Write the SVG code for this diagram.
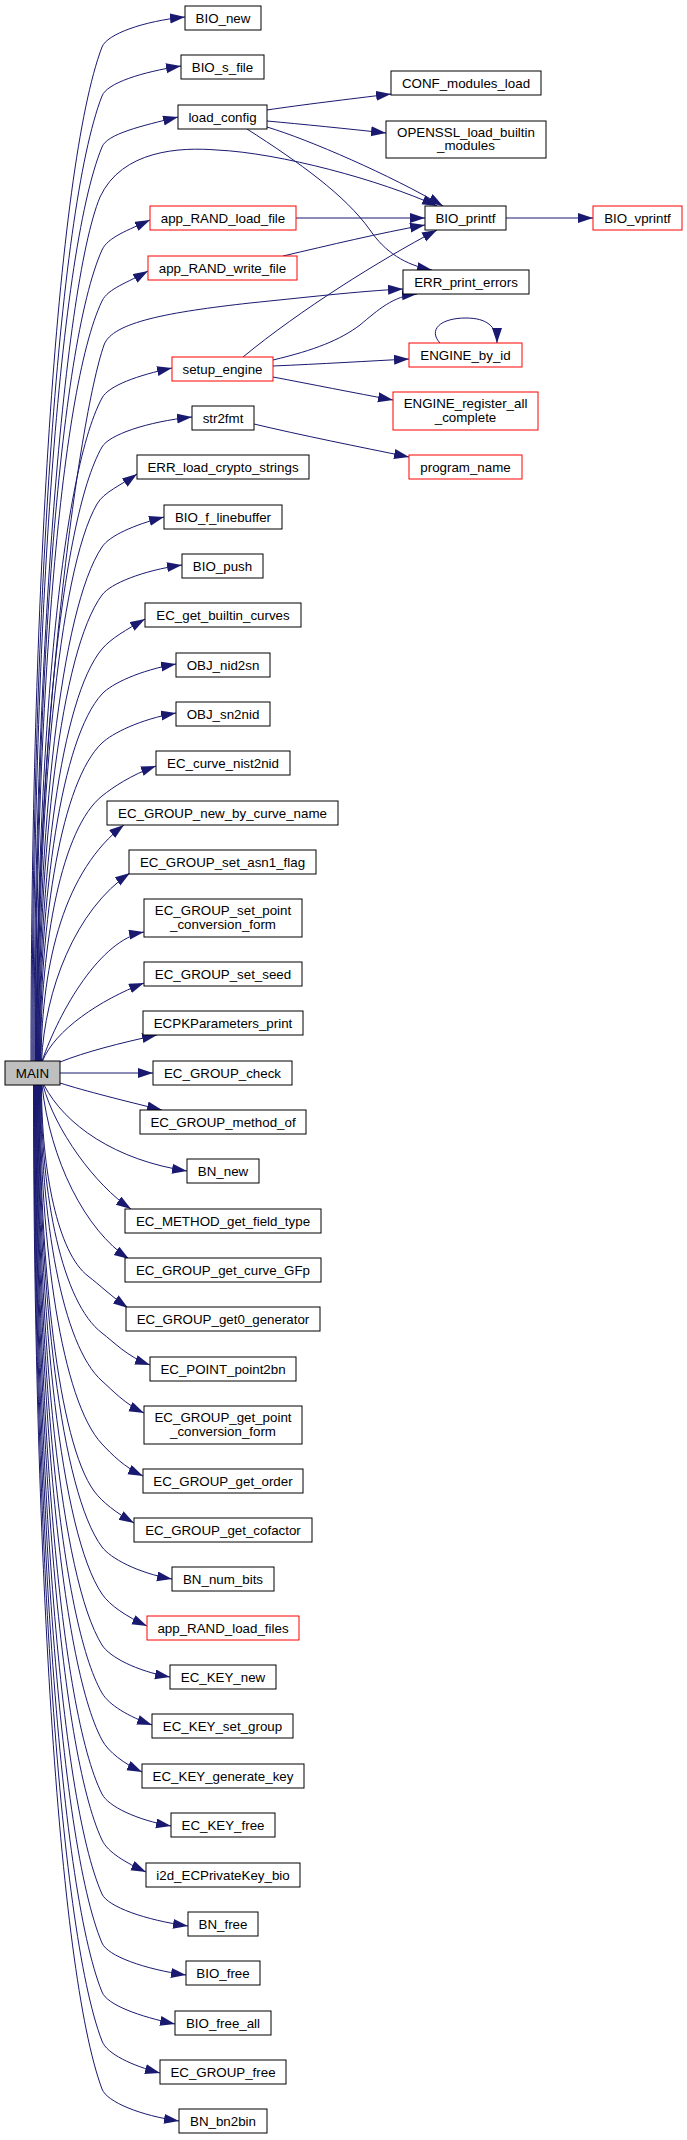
<svg xmlns="http://www.w3.org/2000/svg" width="687" height="2140" viewBox="0 0 687 2140">
<style>
.n rect{fill:#fff;stroke:#000;stroke-width:1}
.n.r rect{stroke:#ff0000}
.n.m rect{fill:#bfbfbf}
.n text{font-family:"Liberation Sans",Arial,Helvetica,sans-serif;font-size:13.33px;text-anchor:middle;fill:#000}
.e path{fill:none;stroke:#191970;stroke-width:1;marker-end:url(#a)}
</style>
<defs>
<marker id="a" markerUnits="userSpaceOnUse" markerWidth="16" markerHeight="11" refX="15" refY="5" orient="auto">
<path d="M0,0 L15,5 L0,10 z" fill="#191970"/>
</marker>
</defs>
<rect width="687" height="2140" fill="#fff"/>
<g id="edges" class="e">
<path d="M31,1061 C31,605 56,169 102,47 C107,34 144,21 185,17"/>
<path d="M32,1061 C32,627 57,212 102,96 C107,83 142,72 181,66"/>
<path d="M33,1061 C33,650 57,257 102,147 C107,134 141,126 178,117"/>
<path d="M34,1061 C34,680 62,290 100,197 C122,150 180,147 217,150 C280,153 380,180 437,206"/>
<path d="M35,1061 C35,696 58.5,347 102,250 C107.7,237.2 128.3,230.1 150,220"/>
<path d="M35.5,1061 C35.5,719 58.8,392 102,301 C108,288.4 128.1,282.5 148,271"/>
<path d="M36,1061 C36,740 78,420 104,345 C112,322 170,312 250,303 C300,298 360,291 403,289"/>
<path d="M36.5,1061 C36.5,763 59.4,478 102,398 C108.6,385.6 137.8,375.3 172,368"/>
<path d="M37,1061 C37,785 59.8,521 102,447 C108.9,434.8 147.2,421.7 192,417"/>
<path d="M37.5,1061 C37.5,810 58.3,571 97,504 C104,491.9 120.6,485.5 137,474"/>
<path d="M38,1061 C38,830 60.4,609 102,547 C109.8,535.4 134.1,525 164,517"/>
<path d="M38.5,1061 C38.5,851 60.7,651 102,595 C110.3,583.7 142.4,570.6 182,565"/>
<path d="M39,1061 C39,876 61,698 102,649 C111,638.3 126.4,629.8 145,619"/>
<path d="M39.5,1061 C39.5,896 61.4,738 102,694 C111.5,683.7 139.6,670.4 176,664"/>
<path d="M40,1061 C40,918 61.7,781 102,743 C112.2,733.4 139.6,719.4 176,713"/>
<path d="M40.5,1061 C40.5,942 62,828 102,796 C112.9,787.3 130.6,775.2 156,766"/>
<path d="M41,1061 C42,960 65,870 124,825"/>
<path d="M41.5,1061 C45,990 75,910 130,873"/>
<path d="M42,1061 C60,1010 100,940 144,932"/>
<path d="M42.5,1061 C55,1030 100,1000 144,983"/>
<path d="M60,1062 C85,1052 120,1043 157,1035"/>
<path d="M60,1073 L153,1073"/>
<path d="M60,1083 C85,1091 125,1101 162,1110"/>
<path d="M44,1085 C65,1125 115,1160 187,1171"/>
<path d="M43,1085 C55,1130 95,1185 131,1209"/>
<path d="M42,1085 C50,1160 85,1230 129,1259"/>
<path d="M41.5,1085 C41.5,1171 57.8,1253 88,1276 C99.1,1284.5 111.6,1296.5 128,1308"/>
<path d="M41,1085 C41,1197 62.4,1303 102,1333 C113.2,1341.5 127.4,1356.8 150,1365"/>
<path d="M40.5,1085 C40.5,1218 62,1345.5 102,1381 C112.5,1390.3 125,1404.1 144,1413"/>
<path d="M40,1085 C40,1247 61.7,1401 102,1444 C111.6,1454.2 124.4,1467.3 143,1476"/>
<path d="M39.5,1085 C39.5,1268 58.5,1442 94,1491 C102.2,1502.3 116.7,1513 134,1523"/>
<path d="M39,1085 C39,1293 61,1492 102,1547 C110.4,1558.2 137.5,1572.9 172,1579"/>
<path d="M38.5,1085 C38.5,1314 60.7,1533 102,1594 C109.8,1605.6 126.6,1616.5 147,1626"/>
<path d="M38,1085 C38,1337 60.4,1578 102,1645 C109.4,1656.9 136.5,1671.1 170,1677"/>
<path d="M37.5,1085 C37.5,1359 60.1,1620 102,1693 C109,1705.1 128.5,1716.4 152,1725"/>
<path d="M37,1085 C37,1380 59.8,1661 102,1740 C108.6,1752.3 123.9,1763.5 142,1772"/>
<path d="M36.5,1085 C36.5,1404 59.4,1709 102,1794 C108.3,1806.5 137,1820 171,1826"/>
<path d="M36,1085 C36,1425 59.1,1749 102,1840 C108,1852.7 126.1,1862.7 146,1872"/>
<path d="M35.5,1085 C35.5,1449 58.8,1797 102,1894 C107.7,1906.8 145.4,1920 188,1926"/>
<path d="M35,1085 C35,1471 58.5,1840 102,1943 C107.4,1955.9 144.4,1969.2 186,1975"/>
<path d="M34.5,1085 C34.5,1493 58.1,1883 102,1992 C107.2,2005 139.3,2016.4 175,2024"/>
<path d="M34,1085 C34,1515 57.8,1926 102,2041 C107,2054.1 132,2065.5 160,2073"/>
<path d="M33.5,1085 C33.5,1537 57.5,1969 102,2089 C106.9,2102.1 140.9,2115.6 179,2121"/>
<path d="M267,110 C300,105 350,99 391,94"/>
<path d="M267,121 C300,124 350,129 386,133"/>
<path d="M267,127 C310,140 390,175 443,206"/>
<path d="M247,129 C300,163 345,195 370,230 C385,252 405,265 432,270"/>
<path d="M296,218 L425,218"/>
<path d="M283,256 C330,245 380,233 425,225"/>
<path d="M243,357 C300,310 380,260 437,230"/>
<path d="M273,360 C315,350 340,340 360,325 C378,310 393,296 417,294"/>
<path d="M273,366 C320,364 370,361 409,359"/>
<path d="M273,377 C310,384 355,393 393,400"/>
<path d="M440,343 C428,330 440,318 466,318 C486,318 497,326 497,343"/>
<path d="M506,218 L593,218"/>
<path d="M254,424 C300,435 360,447 409,457"/>
</g>
<g id="n_BIO_new" class="n"><rect x="185" y="6" width="76" height="24"/><text x="223" y="22.5">BIO_new</text></g>
<g id="n_BIO_s_file" class="n"><rect x="181" y="55" width="83" height="24"/><text x="222.5" y="71.5">BIO_s_file</text></g>
<g id="n_load_config" class="n"><rect x="178" y="105" width="89" height="24"/><text x="222.5" y="121.5">load_config</text></g>
<g id="n_app_RAND_load_file" class="n r"><rect x="150" y="206" width="146" height="24"/><text x="223" y="222.5">app_RAND_load_file</text></g>
<g id="n_app_RAND_write_file" class="n r"><rect x="148" y="256" width="149" height="24"/><text x="222.5" y="272.5">app_RAND_write_file</text></g>
<g id="n_setup_engine" class="n r"><rect x="172" y="357" width="101" height="24"/><text x="222.5" y="373.5">setup_engine</text></g>
<g id="n_str2fmt" class="n"><rect x="192" y="406" width="62" height="24"/><text x="223" y="422.5">str2fmt</text></g>
<g id="n_ERR_load_crypto_strings" class="n"><rect x="137" y="455" width="172" height="24"/><text x="223" y="471.5">ERR_load_crypto_strings</text></g>
<g id="n_BIO_f_linebuffer" class="n"><rect x="164" y="505" width="118" height="24"/><text x="223" y="521.5">BIO_f_linebuffer</text></g>
<g id="n_BIO_push" class="n"><rect x="182" y="554" width="81" height="24"/><text x="222.5" y="570.5">BIO_push</text></g>
<g id="n_EC_get_builtin_curves" class="n"><rect x="145" y="603" width="156" height="24"/><text x="223" y="619.5">EC_get_builtin_curves</text></g>
<g id="n_OBJ_nid2sn" class="n"><rect x="176" y="653" width="94" height="24"/><text x="223" y="669.5">OBJ_nid2sn</text></g>
<g id="n_OBJ_sn2nid" class="n"><rect x="176" y="702" width="94" height="24"/><text x="223" y="718.5">OBJ_sn2nid</text></g>
<g id="n_EC_curve_nist2nid" class="n"><rect x="156" y="751" width="134" height="24"/><text x="223" y="767.5">EC_curve_nist2nid</text></g>
<g id="n_EC_GROUP_new_by_curve_name" class="n"><rect x="107" y="801" width="231" height="24"/><text x="222.5" y="817.5">EC_GROUP_new_by_curve_name</text></g>
<g id="n_EC_GROUP_set_asn1_flag" class="n"><rect x="129" y="850" width="187" height="24"/><text x="222.5" y="866.5">EC_GROUP_set_asn1_flag</text></g>
<g id="n_EC_GROUP_set_point_conversion_form" class="n"><rect x="144" y="899" width="158" height="38"/><text x="223" y="915">EC_GROUP_set_point</text><text x="223" y="929">_conversion_form</text></g>
<g id="n_EC_GROUP_set_seed" class="n"><rect x="144" y="962" width="158" height="24"/><text x="223" y="978.5">EC_GROUP_set_seed</text></g>
<g id="n_ECPKParameters_print" class="n"><rect x="143" y="1011" width="160" height="24"/><text x="223" y="1027.5">ECPKParameters_print</text></g>
<g id="n_MAIN" class="n m"><rect x="5" y="1061" width="55" height="24"/><text x="32.5" y="1077.5">MAIN</text></g>
<g id="n_EC_GROUP_check" class="n"><rect x="153" y="1061" width="139" height="24"/><text x="222.5" y="1077.5">EC_GROUP_check</text></g>
<g id="n_EC_GROUP_method_of" class="n"><rect x="140" y="1110" width="166" height="24"/><text x="223" y="1126.5">EC_GROUP_method_of</text></g>
<g id="n_BN_new" class="n"><rect x="187" y="1159" width="72" height="24"/><text x="223" y="1175.5">BN_new</text></g>
<g id="n_EC_METHOD_get_field_type" class="n"><rect x="125" y="1209" width="196" height="24"/><text x="223" y="1225.5">EC_METHOD_get_field_type</text></g>
<g id="n_EC_GROUP_get_curve_GFp" class="n"><rect x="125" y="1258" width="196" height="24"/><text x="223" y="1274.5">EC_GROUP_get_curve_GFp</text></g>
<g id="n_EC_GROUP_get0_generator" class="n"><rect x="126" y="1307" width="194" height="24"/><text x="223" y="1323.5">EC_GROUP_get0_generator</text></g>
<g id="n_EC_POINT_point2bn" class="n"><rect x="150" y="1357" width="146" height="24"/><text x="223" y="1373.5">EC_POINT_point2bn</text></g>
<g id="n_EC_GROUP_get_point_conversion_form" class="n"><rect x="144" y="1406" width="158" height="38"/><text x="223" y="1422">EC_GROUP_get_point</text><text x="223" y="1436">_conversion_form</text></g>
<g id="n_EC_GROUP_get_order" class="n"><rect x="143" y="1469" width="160" height="24"/><text x="223" y="1485.5">EC_GROUP_get_order</text></g>
<g id="n_EC_GROUP_get_cofactor" class="n"><rect x="134" y="1518" width="178" height="24"/><text x="223" y="1534.5">EC_GROUP_get_cofactor</text></g>
<g id="n_BN_num_bits" class="n"><rect x="172" y="1567" width="102" height="24"/><text x="223" y="1583.5">BN_num_bits</text></g>
<g id="n_app_RAND_load_files" class="n r"><rect x="147" y="1616" width="152" height="24"/><text x="223" y="1632.5">app_RAND_load_files</text></g>
<g id="n_EC_KEY_new" class="n"><rect x="170" y="1665" width="106" height="24"/><text x="223" y="1681.5">EC_KEY_new</text></g>
<g id="n_EC_KEY_set_group" class="n"><rect x="152" y="1714" width="141" height="24"/><text x="222.5" y="1730.5">EC_KEY_set_group</text></g>
<g id="n_EC_KEY_generate_key" class="n"><rect x="142" y="1764" width="162" height="24"/><text x="223" y="1780.5">EC_KEY_generate_key</text></g>
<g id="n_EC_KEY_free" class="n"><rect x="171" y="1813" width="104" height="24"/><text x="223" y="1829.5">EC_KEY_free</text></g>
<g id="n_i2d_ECPrivateKey_bio" class="n"><rect x="146" y="1863" width="154" height="24"/><text x="223" y="1879.5">i2d_ECPrivateKey_bio</text></g>
<g id="n_BN_free" class="n"><rect x="188" y="1912" width="70" height="24"/><text x="223" y="1928.5">BN_free</text></g>
<g id="n_BIO_free" class="n"><rect x="186" y="1961" width="74" height="24"/><text x="223" y="1977.5">BIO_free</text></g>
<g id="n_BIO_free_all" class="n"><rect x="175" y="2011" width="96" height="24"/><text x="223" y="2027.5">BIO_free_all</text></g>
<g id="n_EC_GROUP_free" class="n"><rect x="160" y="2060" width="126" height="24"/><text x="223" y="2076.5">EC_GROUP_free</text></g>
<g id="n_BN_bn2bin" class="n"><rect x="179" y="2109" width="88" height="24"/><text x="223" y="2125.5">BN_bn2bin</text></g>
<g id="n_CONF_modules_load" class="n"><rect x="391" y="71" width="150" height="24"/><text x="466" y="87.5">CONF_modules_load</text></g>
<g id="n_OPENSSL_load_builtin_modules" class="n"><rect x="386" y="121" width="160" height="37"/><text x="466" y="137">OPENSSL_load_builtin</text><text x="466" y="150">_modules</text></g>
<g id="n_BIO_printf" class="n"><rect x="425" y="206" width="81" height="24"/><text x="465.5" y="222.5">BIO_printf</text></g>
<g id="n_BIO_vprintf" class="n r"><rect x="593" y="206" width="89" height="24"/><text x="637.5" y="222.5">BIO_vprintf</text></g>
<g id="n_ERR_print_errors" class="n"><rect x="403" y="270" width="126" height="24"/><text x="466" y="286.5">ERR_print_errors</text></g>
<g id="n_ENGINE_by_id" class="n r"><rect x="409" y="343" width="113" height="24"/><text x="465.5" y="359.5">ENGINE_by_id</text></g>
<g id="n_ENGINE_register_all_complete" class="n r"><rect x="393" y="392" width="145" height="38"/><text x="465.5" y="408">ENGINE_register_all</text><text x="465.5" y="422">_complete</text></g>
<g id="n_program_name" class="n r"><rect x="409" y="455" width="113" height="24"/><text x="465.5" y="471.5">program_name</text></g>
</svg>
